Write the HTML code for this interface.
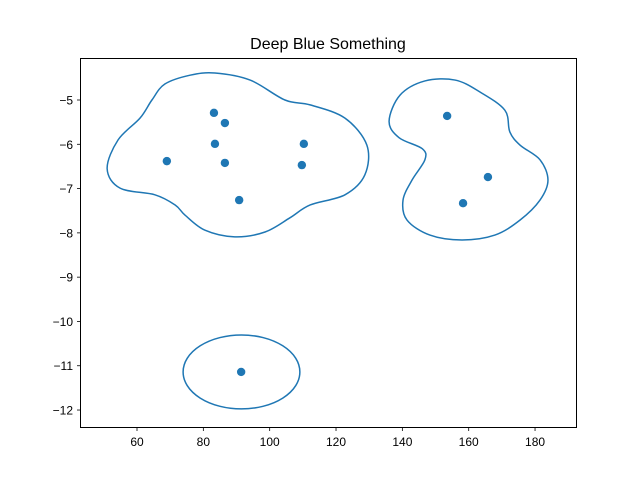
<!DOCTYPE html>
<html><head><meta charset="utf-8"><style>
body{margin:0;background:#fff;font-family:"Liberation Sans","DejaVu Sans",sans-serif;}
svg{display:block}
</style></head><body>
<svg id="chart" width="640" height="480">
<rect width="640" height="480" fill="#fff"/>
<text x="328" y="49" text-anchor="middle" font-size="16" fill="#000">Deep Blue Something</text>
<g id="marks"></g>
<rect x="80.5" y="58.5" width="496" height="369" fill="none" stroke="#000" stroke-width="1"/>
<g id="axes"></g>
</svg>
<script>
const xTicks=[60,80,100,120,140,160,180];
const yTicks=[-5,-6,-7,-8,-9,-10,-11,-12];
const pointsX=[83.2,86.5,83.5,86.5,69.0,90.8,110.3,109.7,153.5,165.8,158.3,91.4];
const pointsY=[-5.29,-5.52,-5.99,-6.42,-6.38,-7.26,-5.99,-6.47,-5.36,-6.74,-7.33,-11.14];
const contour1X=[51.0,54.3,60.9,64.5,68.4,76.0,83.5,94.1,104.6,112.2,122.7,129.3,128.7,122.7,112.2,106.1,98.6,89.5,80.5,74.5,71.5,65.4,54.9];
const contour1Y=[-6.55,-5.90,-5.41,-5.00,-4.64,-4.44,-4.39,-4.55,-5.00,-5.11,-5.41,-6.02,-6.69,-7.14,-7.37,-7.66,-7.98,-8.09,-7.94,-7.60,-7.37,-7.14,-6.99];
const contour2X=[136.0,139.3,146.8,155.9,163.4,170.9,172.4,175.5,181.5,183.9,181.5,175.5,167.9,158.0,148.3,141.4,140.2,142.9,146.8,146.0,139.0];
const contour2Y=[-5.48,-4.89,-4.57,-4.55,-4.82,-5.23,-5.72,-6.02,-6.35,-6.81,-7.26,-7.71,-8.05,-8.16,-8.05,-7.71,-7.26,-6.81,-6.35,-6.10,-5.85];
const ellipseC=[91.5,-11.14];
const ellipseR=[17.6,0.835];

const NS="http://www.w3.org/2000/svg";
function sx(v){return 137+(v-60)*3.317;}
function sy(v){return 100-(v+5)*44.29;}
const marks=document.getElementById('marks');
const axes=document.getElementById('axes');
function mk(tag,attrs,parent){const e=document.createElementNS(NS,tag);for(const k in attrs)e.setAttribute(k,attrs[k]);parent.appendChild(e);return e;}

function smoothPath(xs,ys){
  const p=xs.map((x,i)=>[sx(x),sy(ys[i])]);const n=p.length;
  let d=`M${p[0][0]},${p[0][1]}`;
  for(let i=0;i<n;i++){
    const p0=p[(i-1+n)%n],p1=p[i],p2=p[(i+1)%n],p3=p[(i+2)%n];
    const c1=[p1[0]+(p2[0]-p0[0])/6,p1[1]+(p2[1]-p0[1])/6];
    const c2=[p2[0]-(p3[0]-p1[0])/6,p2[1]-(p3[1]-p1[1])/6];
    d+=`C${c1[0]},${c1[1]} ${c2[0]},${c2[1]} ${p2[0]},${p2[1]}`;
  }
  return d+'Z';
}
const c1=mk('path',{d:smoothPath(contour1X,contour1Y),fill:'none',stroke:'#1f77b4','stroke-width':1.5},marks);


const c2=mk('path',{d:smoothPath(contour2X,contour2Y),fill:'none',stroke:'#1f77b4','stroke-width':1.5},marks);


const c3=mk('ellipse',{cx:sx(ellipseC[0]),cy:sy(ellipseC[1]),rx:ellipseR[0]*3.317,ry:ellipseR[1]*44.29,fill:'none',stroke:'#1f77b4','stroke-width':1.5},marks);


pointsX.forEach((x,i)=>{
  const c=mk('circle',{cx:sx(x),cy:sy(pointsY[i]),r:4.2,fill:'#1f77b4'},marks);
  
  
});
xTicks.forEach(t=>{
  const x=sx(t);
  const l=mk('line',{x1:x,x2:x,y1:427.5,y2:431,stroke:'#000','stroke-width':0.8},axes);
  
  
  const tx=mk('text',{x:x,y:446,'text-anchor':'middle','font-size':12,fill:'#000'},axes);
  tx.textContent=t;
  
  
});
yTicks.forEach(t=>{
  const y=sy(t);
  const l=mk('line',{x1:77,x2:80.5,y1:y,y2:y,stroke:'#000','stroke-width':0.8},axes);
  
  
  const tx=mk('text',{x:73,y:y+4.5,'text-anchor':'end','font-size':12,fill:'#000'},axes);
  tx.textContent='\u2212'+Math.abs(t);
  
  
});
</script>
</body></html>
